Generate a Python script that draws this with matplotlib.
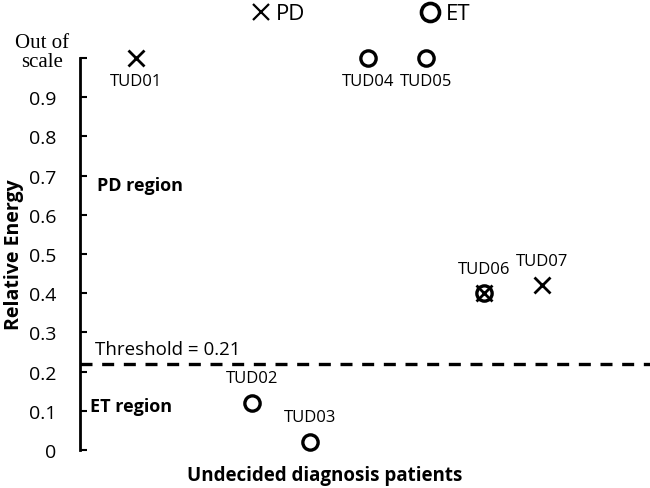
import matplotlib
matplotlib.use("Agg")
import matplotlib.pyplot as plt
from matplotlib.lines import Line2D

# ---- data ----
patients = ["TUD01", "TUD02", "TUD03", "TUD04", "TUD05", "TUD06", "TUD07"]
patient_pos = [1, 3, 4, 5, 6, 7, 8]
relative_energy = [1.0, 0.12, 0.02, 1.0, 1.0, 0.40, 0.42]
is_pd = [True, False, False, False, False, True, True]
is_et = [False, True, True, True, True, True, False]
label_above = [False, True, True, False, False, True, True]
threshold = 0.22
threshold_text = "Threshold = 0.21"
yticks = [0, 0.1, 0.2, 0.3, 0.4, 0.5, 0.6, 0.7, 0.8, 0.9, 1.0]
ytick_labels = ["0", "0.1", "0.2", "0.3", "0.4", "0.5", "0.6", "0.7", "0.8", "0.9", ""]

plt.rcParams['font.family'] = ['Open Sans', 'DejaVu Sans']

fig = plt.figure(figsize=(6.5, 4.89), dpi=100)
ax = fig.add_axes([80/650, 38/489, 570/650, (451-59)/489])

pd_x = [p for p, f in zip(patient_pos, is_pd) if f]
pd_y = [v for v, f in zip(relative_energy, is_pd) if f]
et_x = [p for p, f in zip(patient_pos, is_et) if f]
et_y = [v for v, f in zip(relative_energy, is_et) if f]

ax.plot(et_x, et_y, linestyle='none', marker='o', markersize=11, markerfacecolor='none',
        markeredgecolor='black', markeredgewidth=2.4, clip_on=False, zorder=3)
ax.plot(pd_x, pd_y, linestyle='none', marker='x', markersize=11,
        markeredgecolor='black', markeredgewidth=2.0, clip_on=False, zorder=4)

for name, x, y, above in zip(patients, patient_pos, relative_energy, label_above):
    if above:
        ax.annotate(name, (x, y), xytext=(0, 12), textcoords='offset points',
                    ha='center', va='bottom', fontsize=12, annotation_clip=False)
    else:
        ax.annotate(name, (x, y), xytext=(0, -11), textcoords='offset points',
                    ha='center', va='top', fontsize=12, annotation_clip=False)

ax.axhline(threshold, color='black', lw=2.4, dashes=(3.6, 2.9), xmin=0.0, clip_on=False)

ax.set_xlim(0.034, 9.86)
ax.set_ylim(0, 1.0)
ax.set_yticks(yticks)
ax.set_yticklabels(ytick_labels)
ax.tick_params(axis='y', direction='in', length=5, width=1.5, pad=17, labelsize=14)
ax.set_xticks([])
for s in ['top', 'right', 'bottom']:
    ax.spines[s].set_visible(False)
ax.spines['left'].set_linewidth(2.0)

fig.text(42/650, 1 - 53/489, "Out of\nscale", family='Liberation Serif', fontsize=15,
         ha='center', va='center', linespacing=1.05)

fig.text(97/650, 1 - 186/489, "PD region", fontsize=13, fontweight='bold', va='center', ha='left')
fig.text(90/650, 1 - 407/489, "ET region", fontsize=13, fontweight='bold', va='center', ha='left')
fig.text(95/650, 1 - 350/489, threshold_text, fontsize=13.5, va='center', ha='left')

fig.text(325/650, 1 - 476/489, "Undecided diagnosis patients", fontsize=13.5, fontweight='bold',
         ha='center', va='center')
fig.text(14/650, 1 - 255/489, "Relative Energy", fontsize=14, fontweight='bold',
         ha='center', va='center', rotation=90)

handles = [Line2D([], [], linestyle='none', marker='x', markersize=11, markeredgecolor='black',
                  markeredgewidth=1.6),
           Line2D([], [], linestyle='none', marker='o', markersize=13, markerfacecolor='none',
                  markeredgecolor='black', markeredgewidth=2.6)]
fig.legend(handles, ["PD", "ET"], ncol=2, loc='center', bbox_to_anchor=(361/650, 1 - 15/489),
           frameon=False, fontsize=16, borderpad=0, handlelength=0.8, handletextpad=0.3,
           columnspacing=5.2)

fig.savefig("out.png", dpi=100)
